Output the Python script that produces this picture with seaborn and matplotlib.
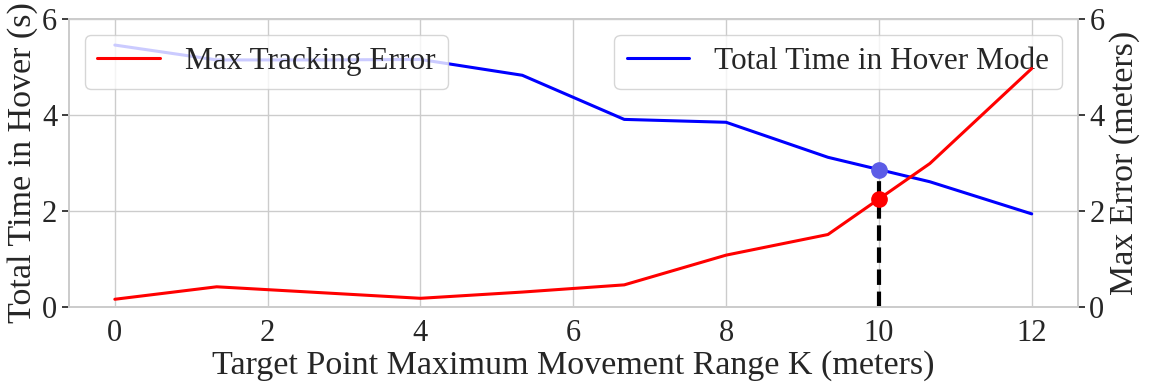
import numpy as np
import pandas as pd
import matplotlib
matplotlib.use('Agg')
import matplotlib.pyplot as plt
import seaborn as sns

# Data
k_range = [0, 1.333, 2.667, 4, 5.333, 6.667, 8, 9.333, 10.667, 12]
hover_time = [5.46, 5.15, 5.15, 5.16, 4.83, 3.91, 3.85, 3.12, 2.61, 1.94]
max_error = [0.16, 0.42, 0.30, 0.18, 0.31, 0.46, 1.08, 1.51, 2.99, 4.97]
chosen_k = 10

sns.set_theme(style='whitegrid')
plt.rcParams['font.family'] = ['Liberation Serif', 'DejaVu Serif']
fs_tick = 22
fs_label = 24.5
fs_legend = 22.5

data = pd.DataFrame({'K': k_range, 'hover': hover_time, 'error': max_error})

fig = plt.figure(figsize=(11.5, 3.91), dpi=100)
ax = fig.add_axes([0.06, 0.215, 0.877, 0.736])
ax2 = ax.twinx()

sns.lineplot(data=data, x='K', y='hover', color='blue', linewidth=2.2,
             label='Total Time in Hover Mode', ax=ax)
sns.lineplot(data=data, x='K', y='error', color='red', linewidth=2.2,
             label='Max Tracking Error', ax=ax2)

# Chosen K marker
hover_at_k = np.interp(chosen_k, k_range, hover_time)
error_at_k = np.interp(chosen_k, k_range, max_error)
ax.plot([chosen_k, chosen_k], [0, hover_at_k], color='black', linestyle='--',
        linewidth=3, zorder=1)
ax.plot(chosen_k, hover_at_k, 'o', color='#5c5ce6', markersize=11, zorder=5)
ax2.plot(chosen_k, error_at_k, 'o', color='red', markersize=11, zorder=5)

ax.set_ylim(0, 6)
ax2.set_ylim(0, 6)
ax.set_yticks([0, 2, 4, 6])
ax2.set_yticks([0, 2, 4, 6])
ax.set_xticks([0, 2, 4, 6, 8, 10, 12])
ax2.grid(False)

ax.set_xlabel('Target Point Maximum Movement Range K (meters)', fontsize=fs_label, labelpad=2)
ax.set_ylabel('Total Time in Hover (s)', fontsize=fs_label, labelpad=3)
ax2.set_ylabel('Max Error (meters)', fontsize=fs_label, labelpad=3)
ax.tick_params(axis='both', labelsize=fs_tick, length=5)
ax2.tick_params(axis='y', labelsize=fs_tick, length=5)

ax.legend(loc='upper right', fontsize=fs_legend)
ax2.legend(loc='upper left', fontsize=fs_legend)

plt.savefig('out.png', dpi=100)
